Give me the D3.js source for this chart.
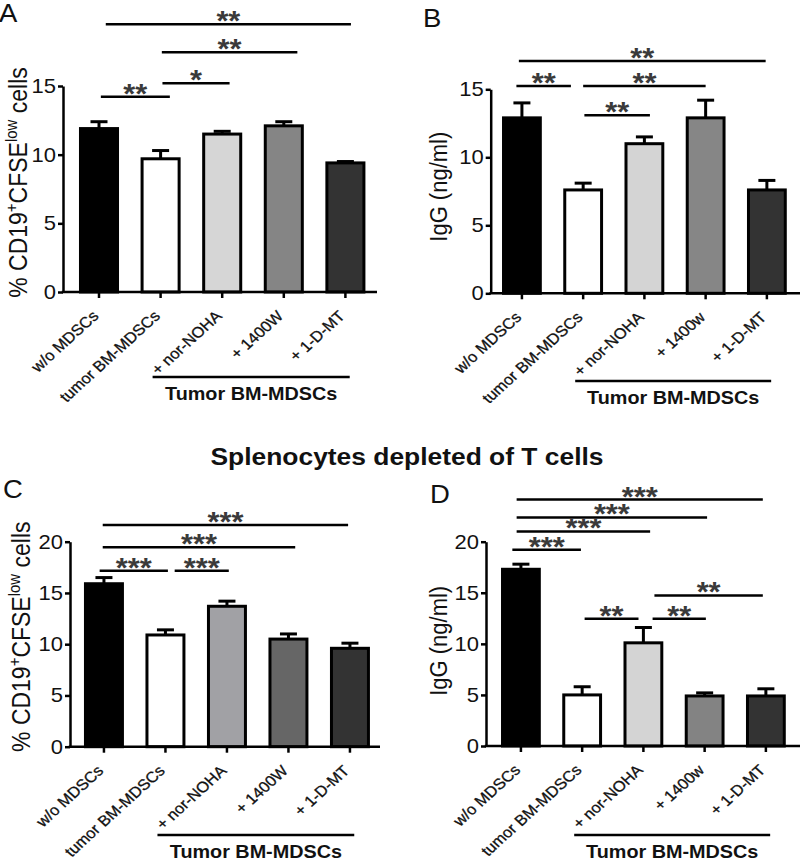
<!DOCTYPE html>
<html>
<head>
<meta charset="utf-8">
<script src="https://cdn.jsdelivr.net/npm/d3@7/dist/d3.min.js"></script>
<style>
  html, body { margin: 0; padding: 0; background: #fff; }
  svg { display: block; }
</style>
</head>
<body>
<svg id="chart" width="800" height="862"></svg>
<script>
// ---------------- DATA ----------------
const categoriesCFSE = ["w/o MDSCs", "tumor BM-MDSCs", "+ nor-NOHA", "+ 1400W", "+ 1-D-MT"];
const categoriesIgG  = ["w/o MDSCs", "tumor BM-MDSCs", "+ nor-NOHA", "+ 1400w", "+ 1-D-MT"];

const meanA = [11.9, 9.7, 11.5, 12.1, 9.4];
const semA  = [0.5, 0.6, 0.2, 0.3, 0.1];
const meanB = [12.9, 7.6, 11.0, 12.9, 7.6];
const semB  = [1.1, 0.5, 0.5, 1.3, 0.7];
const meanC = [15.9, 10.9, 13.7, 10.5, 9.6];
const semC  = [0.6, 0.5, 0.5, 0.5, 0.5];
const meanD = [17.3, 5.0, 10.1, 4.9, 4.9];
const semD  = [0.5, 0.8, 1.5, 0.3, 0.7];

const fillA = ["#000000", "#ffffff", "#d6d6d6", "#858585", "#333333"];
const fillB = ["#000000", "#ffffff", "#d4d4d4", "#868686", "#333333"];
const fillC = ["#000000", "#ffffff", "#a1a1a5", "#666666", "#333333"];
const fillD = ["#000000", "#ffffff", "#d4d4d4", "#838383", "#333333"];

const ticks15 = [0, 5, 10, 15];
const ticks20 = [0, 5, 10, 15, 20];

// significance brackets: from/to category index, small offset (fraction of band step), level in data units
const bracketsA = [
  {from: 0, fromOff: 0.11, to: 4, toOff: 0.09, level: 19.5, label: "**"},
  {from: 1, fromOff: 0.02, to: 3, toOff: 0.22, level: 17.46, label: "**"},
  {from: 1, fromOff: 0.03, to: 2, toOff: 0.12, level: 15.2, label: "*"},
  {from: 0, fromOff: 0.03, to: 1, toOff: 0.15, level: 14.22, label: "**"}
];
const bracketsB = [
  {from: 0, fromOff: -0.05, to: 4, toOff: -0.02, level: 17.08, label: "**"},
  {from: 0, fromOff: -0.09, to: 1, toOff: -0.2, level: 15.24, label: "**"},
  {from: 1, fromOff: 0.0, to: 3, toOff: 0.0, level: 15.24, label: "**"},
  {from: 1, fromOff: 0.02, to: 2, toOff: 0.09, level: 13.1, label: "**"}
];
const bracketsC = [
  {from: 0, fromOff: -0.02, to: 4, toOff: -0.03, level: 21.63, label: "***"},
  {from: 0, fromOff: -0.02, to: 3, toOff: 0.11, level: 19.45, label: "***"},
  {from: 0, fromOff: -0.07, to: 1, toOff: 0.04, level: 17.17, label: "***"},
  {from: 1, fromOff: 0.15, to: 2, toOff: 0.03, level: 17.17, label: "***"}
];
const bracketsD = [
  {from: 0, fromOff: -0.07, to: 4, toOff: -0.05, level: 24.12, label: "***"},
  {from: 0, fromOff: -0.07, to: 3, toOff: 0.04, level: 22.38, label: "***"},
  {from: 0, fromOff: -0.07, to: 2, toOff: 0.11, level: 21.01, label: "***"},
  {from: 0, fromOff: -0.14, to: 1, toOff: -0.02, level: 19.22, label: "***"},
  {from: 2, fromOff: 0.18, to: 4, toOff: -0.05, level: 14.74, label: "**"},
  {from: 1, fromOff: 0.04, to: 2, toOff: -0.08, level: 12.45, label: "**"},
  {from: 2, fromOff: 0.15, to: 3, toOff: 0.02, level: 12.45, label: "**"}
];

const groupLabel = "Tumor BM-MDSCs";
const titleText = "Splenocytes depleted of T cells";

// ---------------- LAYOUT ----------------
const FONT = "'Liberation Sans', Arial, Helvetica, sans-serif";
const SX = 1.1; // horizontal text stretch as in the reference image

const panels = [
  {letter: "A", cats: categoriesCFSE, means: meanA, sems: semA, fills: fillA, brackets: bracketsA, ymax: 15, ticks: ticks15, ylab: "cfse",
   L: {axisX: 63, base: 292, top: 86, xEnd: 377, r0: 68.2, r1: 376.2, letterX: -1, letterY: 22, ylabX: 27, ylabY: 182.5, groupDy: 85, groupTextDy: 22.5}},
  {letter: "B", cats: categoriesIgG, means: meanB, sems: semB, fills: fillB, brackets: bracketsB, ymax: 15, ticks: ticks15, ylab: "igg",
   L: {axisX: 490.7, base: 293.3, top: 89.3, xEnd: 800, r0: 491.3, r1: 797.5, letterX: 423, letterY: 27, ylabX: 446.7, ylabY: 186.7, groupDy: 87.7, groupTextDy: 22.5}},
  {letter: "C", cats: categoriesCFSE, means: meanC, sems: semC, fills: fillC, brackets: bracketsC, ymax: 20, ticks: ticks20, ylab: "cfse",
   L: {axisX: 70, base: 746.7, top: 541.7, xEnd: 380, r0: 73.2, r1: 380.7, letterX: 3, letterY: 498, ylabX: 30, ylabY: 636.7, groupDy: 88.3, groupTextDy: 22.5}},
  {letter: "D", cats: categoriesIgG, means: meanD, sems: semD, fills: fillD, brackets: bracketsD, ymax: 20, ticks: ticks20, ylab: "igg",
   L: {axisX: 486, base: 746, top: 541.7, xEnd: 800, r0: 490.3, r1: 796.5, letterX: 430, letterY: 503, ylabX: 446.7, ylabY: 640.8, groupDy: 89, groupTextDy: 22.5}}
];

const svg = d3.select("#chart");

function stretchText(g, x, y, rot) {
  return g.append("text")
    .attr("transform", `translate(${x},${y}) scale(${SX},1)` + (rot ? ` rotate(${rot})` : ""))
    .attr("font-family", FONT);
}

// title
stretchText(svg, 407, 465, 0)
  .attr("text-anchor", "middle")
  .attr("font-size", 24)
  .attr("font-weight", "bold")
  .attr("fill", "#111")
  .text(titleText);

panels.forEach(p => {
  const L = p.L;
  const g = svg.append("g");
  const data = p.cats.map((c, i) => ({cat: c, mean: p.means[i], sem: p.sems[i], fill: p.fills[i]}));

  const x = d3.scaleBand().domain(p.cats).range([L.r0, L.r1]).paddingInner(0.35).paddingOuter(0.175);
  const y = d3.scaleLinear().domain([0, p.ymax]).range([L.base, L.top]);
  const cx = c => x(c) + x.bandwidth() / 2;

  // bars
  g.selectAll("rect.bar").data(data).join("rect")
    .attr("class", "bar")
    .attr("x", d => x(d.cat) + 1.5)
    .attr("width", x.bandwidth() - 3)
    .attr("y", d => y(d.mean))
    .attr("height", d => y(0) - y(d.mean))
    .attr("fill", d => d.fill)
    .attr("stroke", "#000")
    .attr("stroke-width", 3);

  // error bars (upper only)
  const eb = g.selectAll("g.err").data(data).join("g").attr("class", "err")
    .attr("stroke", "#000").attr("stroke-width", 3);
  eb.append("line")
    .attr("x1", d => cx(d.cat)).attr("x2", d => cx(d.cat))
    .attr("y1", d => y(d.mean)).attr("y2", d => y(d.mean + d.sem));
  eb.append("line")
    .attr("x1", d => cx(d.cat) - 8.5).attr("x2", d => cx(d.cat) + 8.5)
    .attr("y1", d => y(d.mean + d.sem)).attr("y2", d => y(d.mean + d.sem));

  // y axis
  const yAxis = d3.axisLeft(y).tickValues(p.ticks).tickSize(5).tickSizeOuter(0).tickPadding(2)
    .tickFormat(d3.format("d"));
  const ya = g.append("g").attr("transform", `translate(${L.axisX},0)`).call(yAxis);
  ya.select(".domain").attr("stroke", "#000").attr("stroke-width", 2.5);
  ya.selectAll(".tick line").attr("stroke", "#000").attr("stroke-width", 2.5);
  ya.selectAll(".tick text")
    .attr("font-family", FONT).attr("font-size", 20).attr("fill", "#111")
    .attr("transform", `translate(-7,0) scale(${SX},1)`).attr("x", 0);

  // x axis
  const xAxis = d3.axisBottom(x).tickSize(6).tickSizeOuter(0).tickFormat("");
  const xa = g.append("g").attr("transform", `translate(0,${L.base})`).call(xAxis);
  xa.select(".domain").remove();
  xa.selectAll(".tick line").attr("stroke", "#000").attr("stroke-width", 2.5);
  g.append("line")
    .attr("x1", L.axisX - 1.25).attr("x2", L.xEnd)
    .attr("y1", L.base).attr("y2", L.base)
    .attr("stroke", "#000").attr("stroke-width", 2.5);

  // rotated category labels
  p.cats.forEach(c => {
    stretchText(g, cx(c) + 0.5, L.base + 25, -45)
      .attr("text-anchor", "end")
      .attr("font-size", 15)
      .attr("fill", "#111")
      .attr("stroke", "#111")
      .attr("stroke-width", 0.3)
      .text(c);
  });

  // group underline + label
  const gx1 = cx(p.cats[1]) - 0.13 * x.step();
  const gx2 = cx(p.cats[4]) + 0.07 * x.step();
  g.append("line")
    .attr("x1", gx1).attr("x2", gx2)
    .attr("y1", L.base + L.groupDy).attr("y2", L.base + L.groupDy)
    .attr("stroke", "#000").attr("stroke-width", 2.5);
  stretchText(g, (gx1 + gx2) / 2, L.base + L.groupDy + L.groupTextDy, 0)
    .attr("text-anchor", "middle")
    .attr("font-size", 18)
    .attr("font-weight", "bold")
    .attr("fill", "#111")
    .text(groupLabel);

  // significance brackets
  p.brackets.forEach(b => {
    const x1 = cx(p.cats[b.from]) + b.fromOff * x.step();
    const x2 = cx(p.cats[b.to]) + b.toOff * x.step();
    const yy = y(b.level);
    g.append("line")
      .attr("x1", x1).attr("x2", x2).attr("y1", yy).attr("y2", yy)
      .attr("stroke", "#000").attr("stroke-width", 2.5);
    stretchText(g, (x1 + x2) / 2, yy + 6, 0)
      .attr("text-anchor", "middle")
      .attr("font-size", 28)
      .attr("font-weight", "bold")
      .attr("fill", "#3a3a3a")
      .text(b.label);
  });

  // y-axis title
  const yt = stretchText(g, L.ylabX, L.ylabY, -90)
    .attr("text-anchor", "middle")
    .attr("fill", "#111");
  if (p.ylab === "cfse") {
    yt.attr("font-size", 23);
    yt.append("tspan").text("% CD19");
    yt.append("tspan").attr("font-size", 15).attr("dy", -9).text("+");
    yt.append("tspan").attr("dy", 9).text("CFSE");
    yt.append("tspan").attr("font-size", 15).attr("dy", -9).text("low");
    yt.append("tspan").attr("dy", 9).text(" cells");
  } else {
    yt.attr("font-size", 22).text("IgG (ng/ml)");
  }

  // panel letter
  stretchText(g, L.letterX, L.letterY, 0)
    .attr("font-size", 25)
    .attr("fill", "#111")
    .text(p.letter);
});
</script>
</body>
</html>
